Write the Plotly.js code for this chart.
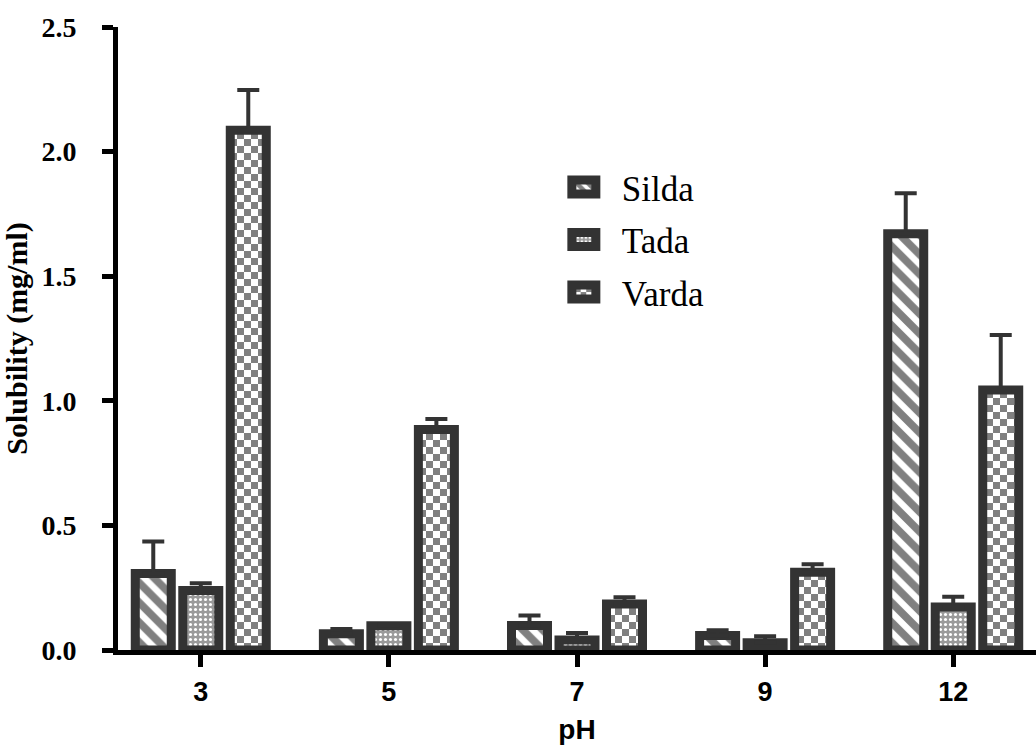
<!DOCTYPE html>
<html><head><meta charset="utf-8">
<script src="https://cdn.plot.ly/plotly-3.0.1.min.js"></script>
<style>html,body{margin:0;padding:0;background:#fff}#plot{width:1036px;height:746px}</style>
</head><body><div id="plot"></div>
<script>
const categories = ['3', '5', '7', '9', '12'];
const seriesNames = ['Silda', 'Tada', 'Varda'];
const silda = [0.307, 0.065, 0.098, 0.058, 1.670];
const sildaErr = [0.128, 0.019, 0.040, 0.021, 0.163];
const tada = [0.239, 0.097, 0.040, 0.029, 0.173];
const tadaErr = [0.029, 0.005, 0.028, 0.026, 0.041];
const varda = [2.086, 0.885, 0.185, 0.312, 1.043];
const vardaErr = [0.161, 0.042, 0.027, 0.032, 0.221];
const yTickVals = [0, 0.5, 1.0, 1.5, 2.0, 2.5];
const yTickText = ['0.0', '0.5', '1.0', '1.5', '2.0', '2.5'];

const edge = '#333333';
function errOf(arr) {
  return {type: 'data', symmetric: false, array: arr, arrayminus: arr.map(() => 0),
          color: edge, thickness: 4, width: 11};
}
const patterns = [
  {shape: '\\', bgcolor: '#ffffff', fgcolor: '#808080', size: 14, solidity: 0.55},
  {shape: '.', bgcolor: '#9a9a9a', fgcolor: '#ffffff', size: 5, solidity: 0.3},
  {shape: 'x', bgcolor: '#ffffff', fgcolor: '#808080', size: 14, solidity: 0.5}
];
const values = [silda, tada, varda];
const errs = [sildaErr, tadaErr, vardaErr];
const uids = ['silda', 'tada', 'varda'];

const traces = seriesNames.map((name, i) => ({
  type: 'bar', name: name, uid: uids[i], legendgroup: uids[i], x: categories, y: values[i],
  marker: {color: patterns[i].bgcolor, line: {color: edge, width: 9}, pattern: patterns[i]},
  error_y: errOf(errs[i]), hoverinfo: 'none'
}));

const layout = {
  width: 1036, height: 746,
  margin: {l: 118, r: 0, t: 27, b: 96},
  paper_bgcolor: '#ffffff', plot_bgcolor: '#ffffff',
  barmode: 'group', bargap: 0.2425, bargroupgap: 0.242,
  showlegend: true,
  xaxis: {
    type: 'category', range: [-0.44, 4.44], showline: true, linecolor: '#000', linewidth: 5,
    ticks: 'outside', ticklen: 12, tickwidth: 5, tickcolor: '#000', showgrid: false, zeroline: false,
    tickfont: {family: 'Liberation Sans', size: 27, weight: 'bold', color: '#000'},
    ticklabelstandoff: 2,
    title: {text: 'pH', font: {family: 'Liberation Sans', size: 28, weight: 'bold', color: '#000'}, standoff: 14}
  },
  yaxis: {
    range: [0, 2.5], tickmode: 'array', tickvals: yTickVals, ticktext: yTickText,
    showline: true, linecolor: '#000', linewidth: 5,
    ticks: 'outside', ticklen: 11, tickwidth: 5, tickcolor: '#000', showgrid: false, zeroline: false,
    tickfont: {family: 'Liberation Serif', size: 28, weight: 'bold', color: '#000'},
    ticklabelstandoff: 20,
    title: {text: 'Solubility (mg/ml)', font: {family: 'Liberation Serif', size: 30, weight: 'bold', color: '#000'}, standoff: 10}
  },
  legend: {
    x: 0.4835, y: 0.79, xanchor: 'left', yanchor: 'top',
    font: {family: 'Liberation Serif', size: 35, color: '#000'},
    bgcolor: 'rgba(0,0,0,0)', borderwidth: 0, itemwidth: 50, tracegroupgap: 4
  }
};

Plotly.newPlot('plot', traces, layout, {staticPlot: true, displayModeBar: false}).then(function (gd) {
  const ns = 'http://www.w3.org/2000/svg';
  // checkerboard texture for Varda
  document.querySelectorAll('pattern').forEach(function (pt) {
    if (pt.id.indexOf('varda') < 0) return;
    const s = 14, h = 7;
    pt.setAttribute('width', s); pt.setAttribute('height', s);
    while (pt.firstChild) pt.removeChild(pt.firstChild);
    [[0, 0, s, s, '#ffffff'], [0, 0, h, h, '#808080'], [h, h, h, h, '#808080']].forEach(function (r) {
      const e = document.createElementNS(ns, 'rect');
      e.setAttribute('x', r[0]); e.setAttribute('y', r[1]);
      e.setAttribute('width', r[2]); e.setAttribute('height', r[3]);
      e.setAttribute('fill', r[4]);
      pt.appendChild(e);
    });
  });
  // larger legend swatches
  gd.querySelectorAll('.legend .traces').forEach(function (it) {
    const p = it.querySelector('.legendpoints path');
    const t = it.querySelector('text.legendtext');
    if (!p || !t) return;
    const pb = p.getBoundingClientRect(), tb = t.getBoundingClientRect();
    const cx = (pb.left + pb.right) / 2;
    const sh = (tb.left - 38) - cx;
    p.setAttribute('d', 'M' + (sh + 12) + ',7H' + (sh - 12) + 'V-7H' + (sh + 12) + 'Z');
    p.style.strokeWidth = '9px';
  });
});
</script>
</body></html>
